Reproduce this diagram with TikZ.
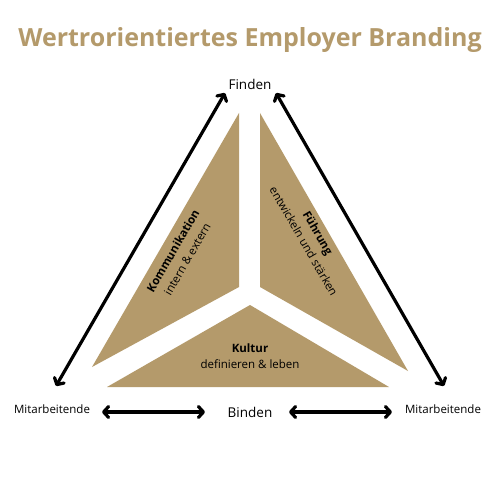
\documentclass[tikz,border=0pt]{standalone}
\usepackage{fontspec}
\setmainfont{Open Sans}
\usetikzlibrary{arrows.meta}
\definecolor{gold}{HTML}{B49A6B}
\begin{document}
\begin{tikzpicture}[x=1pt,y=-1pt,
  tri/.style={fill=gold,draw=none},
  dbl/.style={line width=3.2pt,{Straight Barb[length=5pt,width=11pt,round]}-{Straight Barb[length=5pt,width=11pt,round]}},
  lbl/.style={font=\fontsize{13.5}{15}\selectfont,inner sep=0pt},
  small/.style={font=\fontsize{11.5}{13}\selectfont,inner sep=0pt},
  intext/.style={font=\fontsize{11.5}{16.5}\selectfont,align=center,inner sep=0pt}]
\useasboundingbox (0,0) rectangle (500,500);
\fill[white] (0,0) rectangle (500,500);
\node[font=\bfseries\fontsize{25}{28}\selectfont,text=gold,inner sep=0pt] (title) at (250,40) {Wertrorientiertes Employer Branding};
% triangles
\fill[tri] (239,113) -- (239,287) -- (92,367) -- cycle;
\fill[tri] (260,113) -- (260,287) -- (408,371) -- cycle;
\fill[tri] (250,305) -- (389,387) -- (107,387) -- cycle;
% labels
\node[lbl] (finden) at (250,84) {Finden};
\node[lbl] (binden) at (250,412) {Binden};
\node[small] (mleft) at (52,409) {Mitarbeitende};
\node[small] (mright) at (443,409) {Mitarbeitende};
% arrow anchors
\coordinate (a1) at (56,386);
\coordinate (a2) at (225,93);
\coordinate (b1) at (276,93);
\coordinate (b2) at (444,386);
\coordinate (c1) at (102,412);
\coordinate (c2) at (205,412);
\coordinate (d1) at (289,412);
\coordinate (d2) at (392,412);
\draw[dbl] (a1) -- (a2);
\draw[dbl] (b1) -- (b2);
\draw[dbl] (c1) -- (c2);
\draw[dbl] (d1) -- (d2);
% triangle texts
\node[intext,rotate=60] (komm) at (180,255) {\textbf{Kommunikation}\\intern \& extern};
\node[intext,rotate=-60] (fuehr) at (311,237) {\textbf{Führung}\\entwickeln und stärken};
\node[intext] (kultur) at (250,356) {\textbf{Kultur}\\definieren \& leben};
\end{tikzpicture}
\end{document}
